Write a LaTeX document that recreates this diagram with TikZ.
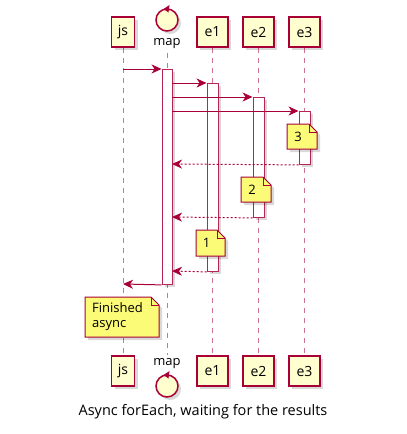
\documentclass[tikz,border=0pt]{standalone}
\usepackage{fontspec}
\setmainfont{Open Sans}
\usetikzlibrary{arrows.meta,shadows}
\definecolor{pborder}{HTML}{A80036}
\definecolor{pfill}{HTML}{FEFECE}
\definecolor{nfill}{HTML}{FBFB77}
\tikzset{
  shd/.style={drop shadow={shadow xshift=3pt,shadow yshift=-3pt,fill=black,opacity=0.15}},
  participant/.style={draw=pborder,fill=pfill,line width=1.3pt,minimum height=30pt,inner sep=0pt,font=\fontsize{14}{16}\selectfont,shd},
  lifeline/.style={draw=pborder!55,line width=1pt,dash pattern=on 5pt off 5pt},
  actbox/.style={draw=pborder!85,fill=white,line width=0.9pt,shd},
  msg/.style={draw=pborder,line width=1pt,-{Stealth[length=10pt,width=9pt,inset=3pt]}},
  ret/.style={msg,dash pattern=on 2pt off 2pt},
  notebody/.style={draw=pborder,fill=nfill,line width=1pt,shd},
  notetext/.style={font=\fontsize{13}{15}\selectfont,align=left,inner sep=0pt},
  ctrl/.style={draw=pborder,fill=pfill,line width=1.5pt,shd},
  lbl/.style={font=\fontsize{13}{15}\selectfont,inner sep=0pt}
}
\begin{document}
\begin{tikzpicture}[x=1pt,y=-1pt]
\useasboundingbox[fill=white] (0,0) rectangle (407,434);

% lifelines
\coordinate (jsT) at (123,48); \coordinate (jsB) at (123,355);
\coordinate (mapT) at (167,53); \coordinate (mapB) at (167,355);
\coordinate (e1T) at (212.5,48); \coordinate (e1B) at (212.5,355);
\coordinate (e2T) at (258.5,48); \coordinate (e2B) at (258.5,355);
\coordinate (e3T) at (304.5,48); \coordinate (e3B) at (304.5,355);
\draw[lifeline] (jsT) -- (jsB);
\draw[lifeline] (mapT) -- (mapB);
\draw[lifeline] (e1T) -- (e1B);
\draw[lifeline] (e2T) -- (e2B);
\draw[lifeline] (e3T) -- (e3B);

% participants top
\node[participant,minimum width=23pt] (jsTop) at (123,32) {js};
\node[participant,minimum width=31pt] (e1Top) at (212.5,32) {e1};
\node[participant,minimum width=31pt] (e2Top) at (258.5,32) {e2};
\node[participant,minimum width=31pt] (e3Top) at (304.5,32) {e3};
\node[ctrl,circle,minimum size=22pt,inner sep=0pt] (mapCircTop) at (167,20) {};
\fill[pborder] (163.5,9) -- (169.5,5) -- (168.5,12.5) -- cycle;
\node[lbl] (mapTop) at (167,44) {map};

% participants bottom
\node[participant,minimum width=23pt] (jsBot) at (123,371) {js};
\node[participant,minimum width=31pt] (e1Bot) at (212.5,371) {e1};
\node[participant,minimum width=31pt] (e2Bot) at (258.5,371) {e2};
\node[participant,minimum width=31pt] (e3Bot) at (304.5,371) {e3};
\node[ctrl,circle,minimum size=22pt,inner sep=0pt] (mapCircBot) at (167,386) {};
\fill[pborder] (163.5,375) -- (169.5,371) -- (168.5,378.5) -- cycle;
\node[lbl] (mapBot) at (167,364) {map};

% activations
\node[actbox,minimum width=10pt,minimum height=215pt,inner sep=0pt,anchor=north] (actMap) at (167,69) {};
\node[actbox,minimum width=11pt,minimum height=188pt,inner sep=0pt,anchor=north] (actE1) at (212.5,83) {};
\node[actbox,minimum width=11pt,minimum height=120pt,inner sep=0pt,anchor=north] (actE2) at (258.5,97) {};
\node[actbox,minimum width=11pt,minimum height=53pt,inner sep=0pt,anchor=north] (actE3) at (304.5,111) {};

% messages
\coordinate (m1s) at (123,69);
\draw[msg] (m1s) -- (actMap.north west);
\coordinate (m2s) at (172,83);
\draw[msg] (m2s) -- (actE1.north west);
\coordinate (m3s) at (172,97);
\draw[msg] (m3s) -- (actE2.north west);
\coordinate (m4s) at (172,111);
\draw[msg] (m4s) -- (actE3.north west);
\coordinate (r3e) at (172,164);
\draw[ret] (actE3.south west) -- (r3e);
\coordinate (r2e) at (172,217);
\draw[ret] (actE2.south west) -- (r2e);
\coordinate (r1e) at (172,271);
\draw[ret] (actE1.south west) -- (r1e);
\coordinate (fin) at (123,284);
\draw[msg] (actMap.south west) -- (fin);

% notes
\draw[notebody] (287,124) -- (309,124) -- (317,132) -- (317,149) -- (287,149) -- cycle;
\draw[pborder,line width=1pt] (309,124) -- (309,132) -- (317,132);
\node[notetext] (n3) at (298,137) {3};

\draw[notebody] (241,177) -- (263,177) -- (271,185) -- (271,202) -- (241,202) -- cycle;
\draw[pborder,line width=1pt] (263,177) -- (263,185) -- (271,185);
\node[notetext] (n2) at (252,190) {2};

\draw[notebody] (196,230) -- (217,230) -- (225,238) -- (225,256) -- (196,256) -- cycle;
\draw[pborder,line width=1pt] (217,230) -- (217,238) -- (225,238);
\node[notetext] (n1) at (206.5,243) {1};

\draw[notebody] (85,297) -- (151,297) -- (159,305) -- (159,337) -- (85,337) -- cycle;
\draw[pborder,line width=1pt] (151,297) -- (151,305) -- (159,305);
\node[notetext,anchor=north west] (nfin) at (92,302) {Finished\\async};

% caption
\node[font=\fontsize{14.5}{16}\selectfont,inner sep=0pt] (cap) at (203,412) {Async forEach, waiting for the results};
\end{tikzpicture}
\end{document}
